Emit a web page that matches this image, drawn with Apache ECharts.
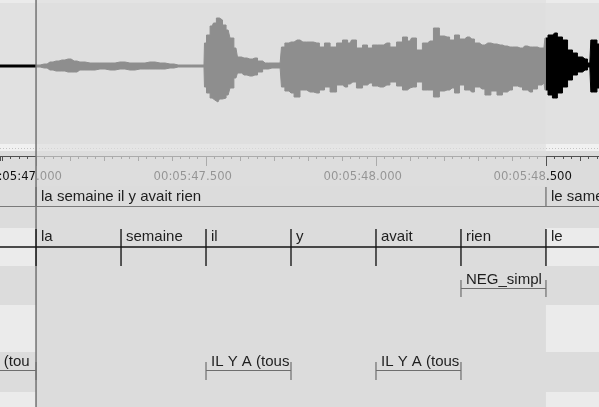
<!DOCTYPE html>
<html>
<head>
<meta charset="utf-8">
<script src="https://cdn.jsdelivr.net/npm/echarts@6/dist/echarts.min.js"></script>
<style>
html, body { margin: 0; padding: 0; background: #dcdcdc; }
#main { width: 599px; height: 407px; }
</style>
</head>
<body>
<div id="main"></div>
<script>
// times are seconds after 00:05:00
var waveTime = [
  46.894, 47.000, 47.024, 47.041, 47.059, 47.076, 47.094, 47.112, 47.129, 47.159,
  47.188, 47.218, 47.247, 47.276, 47.306, 47.335, 47.365, 47.394, 47.418, 47.494,
  47.497, 47.506, 47.518, 47.526, 47.535, 47.544, 47.553, 47.565, 47.576, 47.588,
  47.597, 47.612, 47.629, 47.644, 47.659, 47.674, 47.694, 47.718, 47.726, 47.738,
  47.750, 47.768, 47.785, 47.806, 47.826, 47.841, 47.856, 47.874, 47.894, 47.909,
  47.924, 47.932, 47.953, 47.968, 47.982, 47.997, 48.012, 48.032, 48.050, 48.071,
  48.085, 48.100, 48.109, 48.129, 48.144, 48.159, 48.179, 48.194, 48.209, 48.224,
  48.238, 48.253, 48.268, 48.282, 48.297, 48.312, 48.329, 48.347, 48.365, 48.379,
  48.394, 48.409, 48.424, 48.438, 48.453, 48.468, 48.482, 48.494, 48.500, 48.512,
  48.526, 48.541, 48.556, 48.571, 48.585, 48.600, 48.615, 48.629, 48.635, 48.644,
  48.656
];
// upper / lower envelope of the waveform
var waveTop = [
  1, 1, 2, 4, 5, 6, 7, 5, 4, 3,
  3, 3, 4, 3, 3, 4, 3, 2, 1, 1,
  23, 31, 40, 43, 48, 46, 41, 36, 28, 18,
  9, 8, 7, 8, 5, 3, 3, 3, 19, 23,
  24, 26, 24, 24, 23, 19, 23, 19, 23, 26,
  23, 26, 18, 21, 18, 21, 21, 23, 19, 24,
  29, 25, 28, 16, 23, 25, 38, 30, 29, 26,
  31, 27, 29, 27, 23, 21, 23, 22, 21, 20,
  19, 19, 18, 20, 19, 19, 18, 18, 28, 31,
  33, 29, 26, 16, 13, 9, 7, 3, 26, 26,
  22
];
var waveBottom = [
  1, 1, 2, 4, 5, 5, 6, 6, 4, 4,
  3, 4, 3, 4, 3, 3, 3, 2, 1, 1,
  21, 27, 32, 34, 36, 33, 32, 29, 22, 12,
  7, 9, 10, 9, 6, 3, 2, 2, 21, 25,
  27, 31, 24, 26, 27, 24, 21, 26, 19, 21,
  18, 16, 22, 19, 17, 20, 21, 19, 16, 20,
  24, 22, 21, 16, 24, 24, 31, 25, 24, 22,
  27, 19, 24, 26, 21, 23, 29, 25, 29, 26,
  24, 20, 21, 24, 26, 23, 19, 17, 24, 29,
  32, 27, 21, 14, 9, 6, 4, 1, 26, 26,
  22
];

var viewRange = [46.894, 48.656];
var selection = [47.0, 48.5];
var cursorTime = 47.0;
var rulerLabels = [47.0, 47.5, 48.0, 48.5];

// [start, end, text]
var sentenceTier = [
  [47.0, 48.5, 'la semaine il y avait rien'],
  [48.5, 49.3, 'le same']
];
var wordTier = [
  [47.0, 47.25, 'la'],
  [47.25, 47.5, 'semaine'],
  [47.5, 47.75, 'il'],
  [47.75, 48.0, 'y'],
  [48.0, 48.25, 'avait'],
  [48.25, 48.5, 'rien'],
  [48.5, 48.75, 'le']
];
var negTier = [
  [48.25, 48.5, 'NEG_simpl']
];
var constrTier = [
  [46.758, 47.0, 'IL Y A (tous'],
  [47.5, 47.75, 'IL Y A (tous'],
  [48.0, 48.25, 'IL Y A (tous']
];

var FONT = 'Liberation Sans';
var FONT_SIZE = 15;

function pad(n, w) { return ('000' + n).slice(-w); }
function splitTime(t) {
  var ms = Math.round(t * 1000);
  var s = Math.floor(ms / 1000);
  return ['00:05:' + pad(s, 2), '.' + pad(ms - s * 1000, 3)];
}

function spanData(tier) {
  return tier.map(function (a) { return [a[0], a[1], 0]; });
}

function xOf(api, t) { return api.coord([t, 0])[0]; }

// annotation text, cut (no ellipsis) at the end of its span
function textEl(x0, x1, y, str) {
  return { type: 'text', x: x0 + 5, y: y, style: {
    text: str, fontSize: FONT_SIZE, fontFamily: FONT, fill: '#1e1e1e',
    align: 'left', verticalAlign: 'middle',
    width: x1 - x0 - 5, overflow: 'truncate', ellipsis: ''
  }};
}

function renderSentence(params, api) {
  var x0 = xOf(api, api.value(0)), x1 = xOf(api, api.value(1));
  return { type: 'group', children: [
    { type: 'line', shape: { x1: x0, y1: 187, x2: x0, y2: 206 }, style: { stroke: '#6a6a6a', lineWidth: 1.2 } },
    textEl(x0, x1, 197, sentenceTier[params.dataIndex][2])
  ]};
}

function renderWord(params, api) {
  var x0 = xOf(api, api.value(0)), x1 = xOf(api, api.value(1));
  return { type: 'group', children: [
    { type: 'line', shape: { x1: x0, y1: 229, x2: x0, y2: 266 }, style: { stroke: '#1a1a1a', lineWidth: 1.4 } },
    textEl(x0, x1, 237, wordTier[params.dataIndex][2])
  ]};
}

function bracketRender(tier, yText, yLine, yTop, yBot) {
  return function (params, api) {
    var x0 = xOf(api, api.value(0)), x1 = xOf(api, api.value(1));
    var st = { stroke: '#6e6e6e', lineWidth: 1.2 };
    return { type: 'group', children: [
      { type: 'line', shape: { x1: x0, y1: yLine, x2: x1, y2: yLine }, style: st },
      { type: 'line', shape: { x1: x0, y1: yTop, x2: x0, y2: yBot }, style: st },
      { type: 'line', shape: { x1: x1, y1: yTop, x2: x1, y2: yBot }, style: st },
      textEl(x0, x1, yText, tier[params.dataIndex][2])
    ]};
  };
}

// lighter tier-row shading outside the selection
function renderBands(params, api) {
  var x0 = xOf(api, api.value(0)), x1 = xOf(api, api.value(1));
  var w = api.getWidth();
  var bands = [[228, 266], [305, 352], [392, 407]];
  var kids = [];
  bands.forEach(function (b) {
    kids.push({ type: 'rect', shape: { x: 0, y: b[0], width: x0, height: b[1] - b[0] }, style: { fill: '#ebebeb' } });
    kids.push({ type: 'rect', shape: { x: x1, y: b[0], width: w - x1, height: b[1] - b[0] }, style: { fill: '#ebebeb' } });
  });
  return { type: 'group', children: kids };
}

function renderOverlay(params, api) {
  var x0 = xOf(api, api.value(0)), x1 = xOf(api, api.value(1));
  return { type: 'rect', shape: { x: x0, y: 0, width: x1 - x0, height: 186 },
    style: { fill: 'rgba(222,222,222,0.64)' } };
}

function renderRulerLabel(params, api) {
  var x = xOf(api, api.value(0));
  var parts = splitTime(rulerLabels[params.dataIndex]);
  var base = { fontSize: 11.7, fontFamily: 'DejaVu Sans', fill: '#111', verticalAlign: 'middle' };
  return { type: 'group', children: [
    { type: 'text', x: x, y: 177, style: Object.assign({ text: parts[0], align: 'right' }, base) },
    { type: 'text', x: x, y: 177, style: Object.assign({ text: parts[1], align: 'left' }, base) }
  ]};
}

function renderCursor(params, api) {
  var x = xOf(api, api.value(0));
  return { type: 'line', shape: { x1: x, y1: 0, x2: x, y2: 407 }, style: { stroke: '#727272', lineWidth: 1.5 } };
}

var chart = echarts.init(document.getElementById('main'));
var upper = waveTime.map(function (t, i) { return [t, waveTop[i]]; });
var lower = waveTime.map(function (t, i) { return [t, -waveBottom[i]]; });
var tickColor = '#505050';

chart.setOption({
  animation: false,
  backgroundColor: '#dcdcdc',
  graphic: [
    { type: 'rect', z: -5, shape: { x: 0, y: 0, width: 599, height: 3 }, style: { fill: '#ebebeb' } },
    { type: 'rect', z: -5, shape: { x: 0, y: 3, width: 599, height: 141 }, style: { fill: '#e1e1e1' } },
    { type: 'rect', z: -5, shape: { x: 0, y: 144, width: 599, height: 7 }, style: { fill: '#f1f1f1' } },
    { type: 'line', z: -4, shape: { x1: 0, y1: 148.5, x2: 599, y2: 148.5 }, style: { stroke: '#c4c4c4', lineWidth: 1, lineDash: [1, 2] } },
    { type: 'line', z: 20, shape: { x1: 0, y1: 206.5, x2: 599, y2: 206.5 }, style: { stroke: '#7a7a7a', lineWidth: 1.2 } },
    { type: 'line', z: 20, shape: { x1: 0, y1: 247, x2: 599, y2: 247 }, style: { stroke: '#151515', lineWidth: 1.5 } }
  ],
  grid: [
    { left: 0, right: 0, top: 3, height: 126 },
    { left: 0, right: 0, top: 156, bottom: 0 },
    { left: 0, right: 0, top: 156, height: 20 }
  ],
  xAxis: [
    { type: 'value', gridIndex: 0, min: viewRange[0], max: viewRange[1], show: false },
    {
      type: 'value', gridIndex: 1, min: viewRange[0], max: viewRange[1], position: 'top', splitNumber: 17, z: 3,
      axisLine: { show: true, onZero: false, lineStyle: { color: tickColor, width: 1 } },
      axisTick: { show: true, inside: true, length: 5, lineStyle: { color: tickColor } },
      minorTick: { show: true, splitNumber: 4, length: 3, lineStyle: { color: tickColor } },
      axisLabel: { show: false }, splitLine: { show: false }
    },
    {
      type: 'value', gridIndex: 2, min: viewRange[0], max: viewRange[1], position: 'top', z: 3,
      axisLine: { show: false, onZero: false },
      axisTick: { show: true, inside: true, length: 10, customValues: rulerLabels, lineStyle: { color: tickColor } },
      axisLabel: { show: false }, splitLine: { show: false }
    }
  ],
  yAxis: [
    { type: 'value', gridIndex: 0, min: -63, max: 63, show: false },
    { type: 'value', gridIndex: 1, min: 0, max: 1, show: false },
    { type: 'value', gridIndex: 2, min: 0, max: 1, show: false }
  ],
  series: [
    {
      type: 'custom', xAxisIndex: 1, yAxisIndex: 1, z: 1, silent: true,
      data: [[selection[0], selection[1], 0]], encode: { x: [0, 1], y: 2 },
      renderItem: renderBands
    },
    {
      type: 'line', xAxisIndex: 0, yAxisIndex: 0, z: 2, data: upper, showSymbol: false, step: 'middle',
      lineStyle: { color: '#000', width: 1 }, areaStyle: { color: '#000', opacity: 1 }
    },
    {
      type: 'line', xAxisIndex: 0, yAxisIndex: 0, z: 2, data: lower, showSymbol: false, step: 'middle',
      lineStyle: { color: '#000', width: 1 }, areaStyle: { color: '#000', opacity: 1 }
    },
    {
      type: 'custom', xAxisIndex: 1, yAxisIndex: 1, z: 5,
      data: rulerLabels.map(function (t) { return [t, 0]; }), encode: { x: 0, y: 1 },
      renderItem: renderRulerLabel
    },
    {
      type: 'custom', xAxisIndex: 1, yAxisIndex: 1, z: 10, silent: true,
      data: [[selection[0], selection[1], 0]], encode: { x: [0, 1], y: 2 },
      renderItem: renderOverlay
    },
    {
      type: 'custom', xAxisIndex: 1, yAxisIndex: 1, z: 11,
      data: [[cursorTime, 0]], encode: { x: 0, y: 1 },
      renderItem: renderCursor
    },
    {
      type: 'custom', xAxisIndex: 1, yAxisIndex: 1, z: 12,
      data: spanData(sentenceTier), encode: { x: [0, 1], y: 2 }, renderItem: renderSentence
    },
    {
      type: 'custom', xAxisIndex: 1, yAxisIndex: 1, z: 12,
      data: spanData(wordTier), encode: { x: [0, 1], y: 2 }, renderItem: renderWord
    },
    {
      type: 'custom', xAxisIndex: 1, yAxisIndex: 1, z: 12,
      data: spanData(negTier), encode: { x: [0, 1], y: 2 },
      renderItem: bracketRender(negTier, 280, 288.5, 280, 297)
    },
    {
      type: 'custom', xAxisIndex: 1, yAxisIndex: 1, z: 12,
      data: spanData(constrTier), encode: { x: [0, 1], y: 2 },
      renderItem: bracketRender(constrTier, 362, 370.5, 362, 380)
    }
  ]
});
window.onresize = chart.resize;
</script>
</body>
</html>
